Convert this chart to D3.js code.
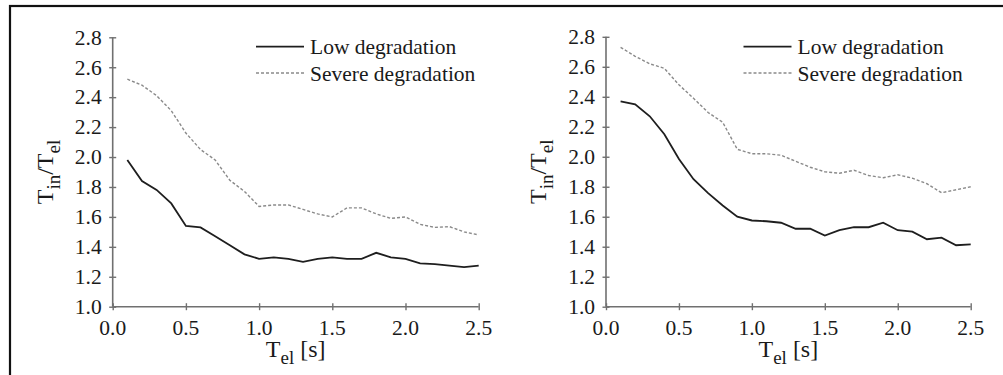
<!DOCTYPE html>
<html><head><meta charset="utf-8">
<script src="https://cdn.jsdelivr.net/npm/d3@7"></script>
</head><body style="margin:0;background:#fff">
<svg id="c" width="1003" height="375" style="display:block"></svg>
<script>
const periods = [0.1,0.2,0.3,0.4,0.5,0.6,0.7,0.8,0.9,1.0,1.1,1.2,1.3,1.4,1.5,1.6,1.7,1.8,1.9,2.0,2.1,2.2,2.3,2.4,2.5];
const leftLow = [1.98,1.84,1.78,1.69,1.54,1.53,1.47,1.41,1.35,1.32,1.33,1.32,1.30,1.32,1.33,1.32,1.32,1.36,1.33,1.32,1.29,1.285,1.275,1.265,1.275];
const leftSevere = [2.52,2.48,2.41,2.31,2.16,2.05,1.98,1.845,1.77,1.67,1.68,1.68,1.65,1.62,1.60,1.66,1.66,1.62,1.59,1.60,1.55,1.53,1.535,1.50,1.48];
const rightLow = [2.37,2.35,2.27,2.15,1.985,1.85,1.757,1.675,1.60,1.575,1.57,1.56,1.52,1.52,1.475,1.51,1.53,1.53,1.56,1.51,1.50,1.45,1.46,1.41,1.415];
const rightSevere = [2.73,2.67,2.62,2.59,2.48,2.39,2.295,2.23,2.05,2.02,2.02,2.01,1.97,1.93,1.90,1.89,1.91,1.875,1.86,1.88,1.857,1.82,1.76,1.78,1.80];
const xTicks = [0.0,0.5,1.0,1.5,2.0,2.5];
const yTicks = [1.0,1.2,1.4,1.6,1.8,2.0,2.2,2.4,2.6,2.8];
const legendLabels = ["Low degradation","Severe degradation"];

const FONT = '"Liberation Serif"';
const TXT = "#1a1a1a";
const fmt = d3.format(".1f");
const svg = d3.select("#c");
svg.append("rect").attr("x",10).attr("y",6).attr("width",1100).attr("height",500)
  .attr("fill","none").attr("stroke","#111").attr("stroke-width",2.2);

const axisColor = "#707070";

function panel(x0,x1,y0,y1,low,severe,legX,titleX){
  const x = d3.scaleLinear().domain([0,2.5]).range([x0,x1]);
  const y = d3.scaleLinear().domain([1.0,2.8]).range([y0,y1]);
  const g = svg.append("g");
  const ax = g.append("g").attr("transform",`translate(0,${y0})`)
    .call(d3.axisBottom(x).tickValues(xTicks).tickFormat("").tickSize(3));
  const ay = g.append("g").attr("transform",`translate(${x0},0)`)
    .call(d3.axisLeft(y).tickValues(yTicks).tickFormat("").tickSize(3));
  [ax,ay].forEach(a=>{ a.select(".domain").remove(); a.selectAll(".tick text").remove(); });
  g.append("line").attr("x1",x0).attr("x2",x1).attr("y1",y0).attr("y2",y0).attr("stroke",axisColor).attr("stroke-width",1.6);
  g.append("line").attr("x1",x0).attr("x2",x0).attr("y1",y0).attr("y2",y1).attr("stroke",axisColor).attr("stroke-width",1.6);
  ax.selectAll(".tick line").attr("y1",-3.5).attr("y2",3.5).attr("stroke",axisColor).attr("stroke-width",1.4);
  ay.selectAll(".tick line").attr("x1",-3.5).attr("x2",3.5).attr("stroke",axisColor).attr("stroke-width",1.4);

  // tick labels
  g.selectAll(null).data(xTicks).join("text")
    .attr("x",d=>x(d)).attr("y",y0+28).attr("text-anchor","middle")
    .style("font-family",FONT).style("font-size","21.5px").attr("fill",TXT).text(fmt);
  g.selectAll(null).data(yTicks).join("text")
    .attr("x",x0-11).attr("y",d=>y(d)+7.3).attr("text-anchor","end")
    .style("font-family",FONT).style("font-size","21.5px").attr("fill",TXT).text(fmt);

  const line = d3.line().x((d,i)=>x(periods[i])).y(d=>y(d));
  g.append("path").datum(severe).attr("d",line).attr("fill","none")
    .attr("stroke","#8a8a8a").attr("stroke-width",1.4).attr("stroke-dasharray","3,2");
  g.append("path").datum(low).attr("d",line).attr("fill","none")
    .attr("stroke","#1e1e1e").attr("stroke-width",1.8);

  const lg = g.append("g");
  lg.append("line").attr("x1",legX).attr("x2",legX+48).attr("y1",46.7).attr("y2",46.7).attr("stroke","#1e1e1e").attr("stroke-width",1.8);
  lg.append("line").attr("x1",legX).attr("x2",legX+48).attr("y1",73).attr("y2",73).attr("stroke","#8a8a8a").attr("stroke-width",1.4).attr("stroke-dasharray","3,2");
  lg.append("text").attr("x",legX+54).attr("y",54).style("font-family",FONT).style("font-size","21.5px").attr("fill",TXT).text(legendLabels[0]);
  lg.append("text").attr("x",legX+54).attr("y",80.5).style("font-family",FONT).style("font-size","21.5px").attr("fill",TXT).text(legendLabels[1]);

  const xt = g.append("text").attr("x",(x0+x1)/2).attr("y",357).attr("text-anchor","middle")
    .style("font-family",FONT).style("font-size","24px").attr("fill",TXT);
  xt.append("tspan").text("T");
  xt.append("tspan").style("font-size","19px").attr("dy",7).text("el");
  xt.append("tspan").attr("dy",-7).text(" [s]");

  const yt = g.append("text").attr("transform",`translate(${titleX},${(y0+y1)/2}) rotate(-90)`)
    .attr("text-anchor","middle").style("font-family",FONT).style("font-size","24px").attr("fill",TXT);
  yt.append("tspan").text("T");
  yt.append("tspan").style("font-size","19px").attr("dy",7).text("in");
  yt.append("tspan").attr("dy",-7).text("/T");
  yt.append("tspan").style("font-size","19px").attr("dy",7).text("el");
}

panel(112.7,478.7,306.7,37.3,leftLow,leftSevere,256,53);
panel(606,970.7,306.7,36.8,rightLow,rightSevere,743.5,546);
</script>
</body></html>
